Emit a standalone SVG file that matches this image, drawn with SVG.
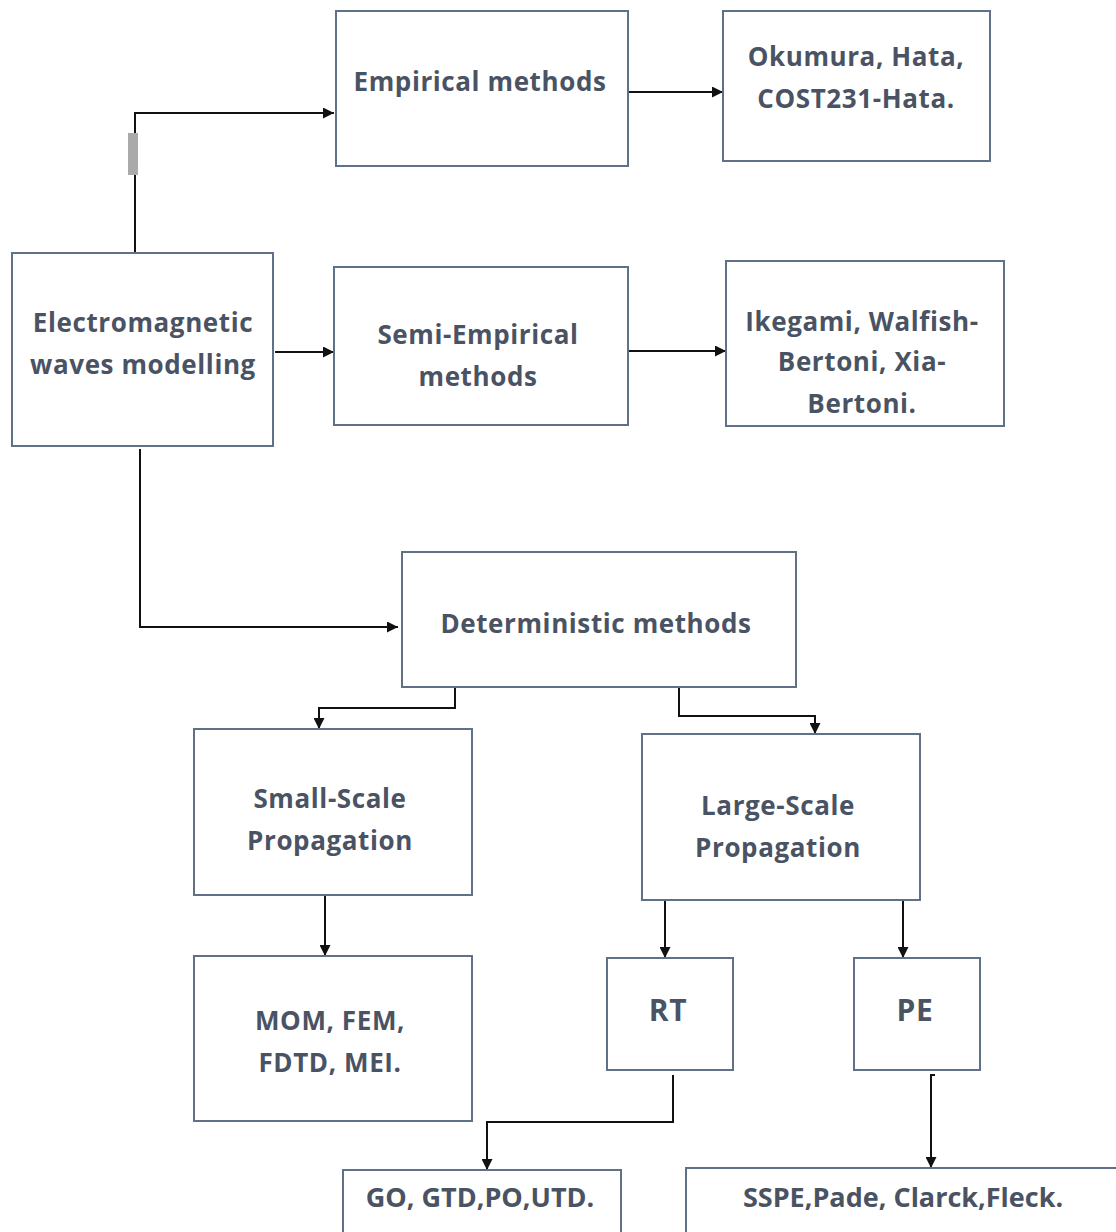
<svg xmlns="http://www.w3.org/2000/svg" width="1116" height="1232" viewBox="0 0 1116 1232">
<style>
.box{fill:#fff;stroke:#5f7189;stroke-width:2}
.t{font-family:"Open Sans","DejaVu Sans",sans-serif;font-weight:bold;font-size:26px;fill:#4a5363;text-anchor:middle;letter-spacing:0.6px}
.b{font-size:27px;letter-spacing:0}
.c{fill:none;stroke:#111;stroke-width:2}
</style>
<defs>
<marker id="ah" viewBox="0 0 10 10" refX="10" refY="5" markerWidth="11" markerHeight="11" markerUnits="userSpaceOnUse" orient="auto">
<path d="M0,0 L10,5 L0,10 z" fill="#111"/>
</marker>
</defs>
<rect width="1116" height="1232" fill="#fff"/>
<g id="connectors">
<path class="c" d="M135,253 V113 H334" marker-end="url(#ah)"/>
<rect x="128" y="133" width="10" height="42" fill="#aaa"/>
<path class="c" d="M275,352 H334" marker-end="url(#ah)"/>
<path class="c" d="M628,92 H723" marker-end="url(#ah)"/>
<path class="c" d="M628,351 H726" marker-end="url(#ah)"/>
<path class="c" d="M140,449 V627 H398" marker-end="url(#ah)"/>
<path class="c" d="M455,687 V708 H319 V729" marker-end="url(#ah)"/>
<path class="c" d="M679,687 V716 H815 V734" marker-end="url(#ah)"/>
<path class="c" d="M325,895 V956" marker-end="url(#ah)"/>
<path class="c" d="M665,900 V958" marker-end="url(#ah)"/>
<path class="c" d="M903,898 V958" marker-end="url(#ah)"/>
<path class="c" d="M673,1075 V1122 H487 V1170" marker-end="url(#ah)"/>
<path class="c" d="M935,1075 H931 V1168" marker-end="url(#ah)"/>
</g>
<g id="empirical"><rect class="box" x="336" y="11" width="292" height="155"/><text class="t" x="480" y="91">Empirical methods</text></g>
<g id="okumura"><rect class="box" x="723" y="11" width="267" height="150"/><text class="t" x="856" y="66">Okumura, Hata,</text><text class="t" x="856" y="108">COST231-Hata.</text></g>
<g id="em"><rect class="box" x="12" y="253" width="261" height="193"/><text class="t" x="143" y="332">Electromagnetic</text><text class="t" x="143" y="374">waves modelling</text></g>
<g id="semi"><rect class="box" x="334" y="267" width="294" height="158"/><text class="t" x="478" y="344">Semi-Empirical</text><text class="t" x="478" y="386">methods</text></g>
<g id="ikegami"><rect class="box" x="726" y="261" width="278" height="165"/><text class="t" x="862" y="331">Ikegami, Walfish-</text><text class="t" x="862" y="371">Bertoni, Xia-</text><text class="t" x="862" y="413">Bertoni.</text></g>
<g id="det"><rect class="box" x="402" y="552" width="394" height="135"/><text class="t" x="596" y="633">Deterministic methods</text></g>
<g id="small"><rect class="box" x="194" y="729" width="278" height="166"/><text class="t" x="330" y="808">Small-Scale</text><text class="t" x="330" y="850">Propagation</text></g>
<g id="large"><rect class="box" x="642" y="734" width="278" height="166"/><text class="t" x="778" y="815">Large-Scale</text><text class="t" x="778" y="857">Propagation</text></g>
<g id="mom"><rect class="box" x="194" y="956" width="278" height="165"/><text class="t" x="330" y="1030">MOM, FEM,</text><text class="t" x="330" y="1072">FDTD, MEI.</text></g>
<g id="rt"><rect class="box" x="607" y="958" width="126" height="112"/><text class="t" x="668" y="1021" style="font-size:30px">RT</text></g>
<g id="pe"><rect class="box" x="854" y="958" width="126" height="112"/><text class="t" x="915" y="1021" style="font-size:30px">PE</text></g>
<g id="go"><rect class="box" x="343" y="1170" width="278" height="80"/><text class="t b" x="480" y="1207">GO, GTD,PO,UTD.</text></g>
<g id="sspe"><rect class="box" x="686" y="1168" width="450" height="80"/><text class="t b" x="903" y="1207">SSPE,Pade, Clarck,Fleck.</text></g>
</svg>
